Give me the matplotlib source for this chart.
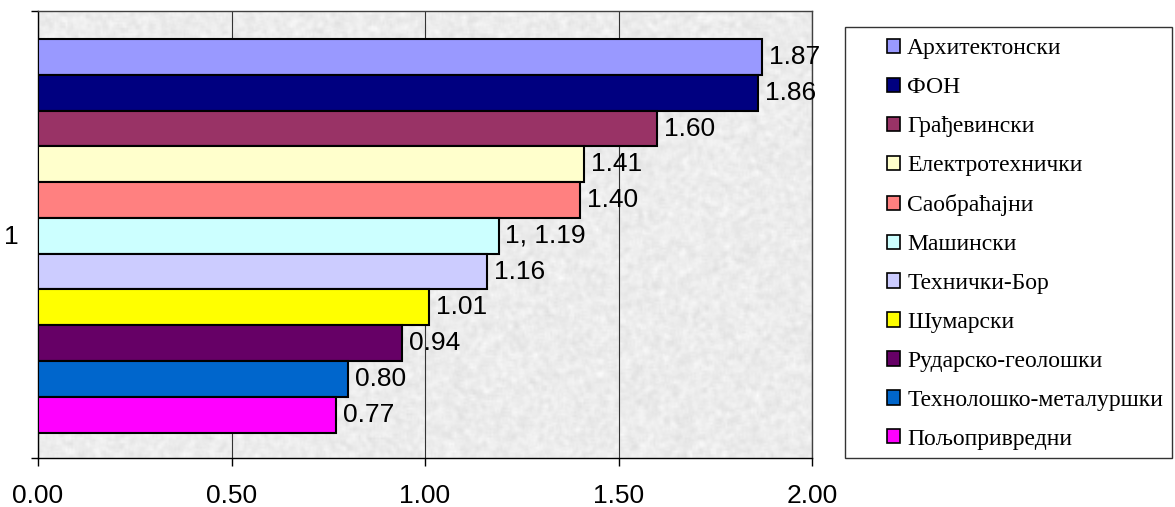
import numpy as np
import matplotlib as mpl
mpl.use('Agg')
import matplotlib.pyplot as plt
from matplotlib.patches import Patch, Rectangle

# data
faculties = ['Архитектонски', 'ФОН', 'Грађевински', 'Електротехнички', 'Саобраћајни',
             'Машински', 'Технички-Бор', 'Шумарски', 'Рударско-геолошки',
             'Технолошко-металуршки', 'Пољопривредни']
values = [1.87, 1.86, 1.60, 1.41, 1.40, 1.19, 1.16, 1.01, 0.94, 0.80, 0.77]
value_labels = ['1.87', '1.86', '1.60', '1.41', '1.40', '1, 1.19', '1.16', '1.01',
                '0.94', '0.80', '0.77']
colors = ['#9999FF', '#000080', '#993366', '#FFFFCC', '#FF8080', '#CCFFFF',
          '#CCCCFF', '#FFFF00', '#660066', '#0066CC', '#FF00FF']
category = '1'
xticks = [0.0, 0.5, 1.0, 1.5, 2.0]

plt.rcParams['font.family'] = ['Liberation Sans', 'DejaVu Sans']

W, H = 1175, 507
fig = plt.figure(figsize=(W/100, H/100), dpi=100)
ax = fig.add_axes([38/W, 1-458/H, (812-38)/W, (458-11)/H])

# granite-like background texture (decoration only)
rng = np.random.default_rng(3)
tex = rng.normal(0, 1, (240, 420))
k = np.ones(3) / 3
tex = np.apply_along_axis(lambda r: np.convolve(r, k, mode='same'), 1, tex)
tex = np.apply_along_axis(lambda c: np.convolve(c, k, mode='same'), 0, tex)
tex = np.clip(0.925 + 0.045 * tex, 0.78, 1.0)
ax.imshow(tex, cmap='gray', vmin=0, vmax=1, extent=[0, 2, -0.5, 0.5],
          aspect='auto', zorder=0, interpolation='bilinear')

n = len(values)
group = 0.88
bh = group / n
ypos = [(n - 1) / 2 * bh - i * bh - 0.003 for i in range(n)]

for i in range(n):
    ax.barh(ypos[i], values[i], height=bh, color=colors[i], edgecolor='black',
            linewidth=1.5, zorder=3, label=faculties[i])
    ax.annotate(value_labels[i], (values[i], ypos[i]), xytext=(5, 0),
                textcoords='offset points', va='center', ha='left',
                fontsize=19, zorder=4, annotation_clip=False)

ax.set_xlim(0, 2)
ax.set_ylim(-0.5, 0.5)
ax.set_xticks(xticks)
ax.set_xticklabels(['%.2f' % t for t in xticks])
ax.set_yticks([0])
ax.set_yticklabels([category])
ax.set_yticks([-0.5, 0.5], minor=True)
ax.tick_params(axis='x', length=6, width=1, pad=13, labelsize=19, direction='out')
ax.tick_params(axis='y', which='major', length=0, pad=14, labelsize=19)
ax.tick_params(axis='y', which='minor', length=5, width=1, direction='out')
ax.grid(axis='x', color='#333333', linewidth=0.8, zorder=1)
ax.set_axisbelow(True)
for s in ['top', 'right']:
    ax.spines[s].set_color('#404040')
    ax.spines[s].set_linewidth(1)
for s in ['left', 'bottom']:
    ax.spines[s].set_color('black')
    ax.spines[s].set_linewidth(1)

# legend frame drawn separately, entries placed inside it
fig.patches.append(Rectangle((845/W, 1-458/H), (1172-845)/W, (458-27)/H,
                             transform=fig.transFigure, facecolor='white',
                             edgecolor='#333333', linewidth=1, zorder=0))
handles = [Patch(facecolor=c, edgecolor='black', linewidth=1.2) for c in colors]
leg = fig.legend(handles, faculties, loc='center left',
                 bbox_to_anchor=(887/W, 1-244/H), frameon=False,
                 prop={'family': ['Liberation Serif', 'DejaVu Serif'], 'size': 17},
                 handlelength=0.55, handleheight=0.55, handletextpad=0.3,
                 labelspacing=0.76, borderpad=0, borderaxespad=0)

fig.savefig('out.png', dpi=100)
